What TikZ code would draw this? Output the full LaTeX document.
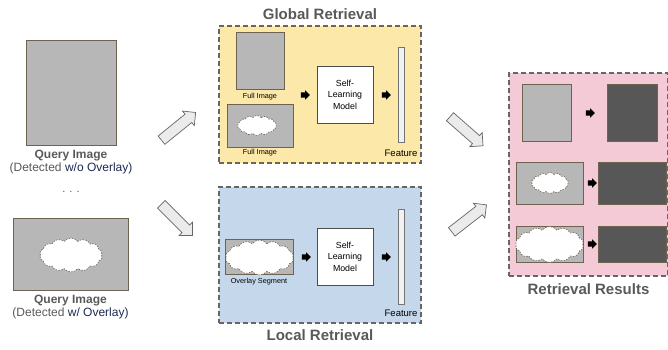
\documentclass[tikz,border=0pt]{standalone}
\usepackage{fontspec}
\setmainfont{Liberation Sans}
\usetikzlibrary{positioning,arrows.meta,shapes.symbols,shapes.arrows}
\definecolor{imggray}{HTML}{B7B7B7}
\definecolor{imgedge}{HTML}{6E6250}
\definecolor{resdark}{HTML}{575757}
\definecolor{globalbg}{HTML}{FCE8A8}
\definecolor{localbg}{HTML}{C5D8EB}
\definecolor{resultbg}{HTML}{F5CAD7}
\definecolor{panelgray}{HTML}{666666}
\definecolor{titlegray}{HTML}{595959}
\definecolor{navyblue}{HTML}{1C2A52}

\begin{document}
\begin{tikzpicture}[
  x=1pt, y=-1pt,
  img/.style={draw=imgedge, fill=imggray, line width=0.7pt, inner sep=0pt},
  res/.style={draw=imgedge, fill=resdark, line width=0.7pt, inner sep=0pt},
  blob/.style={shape=cloud, cloud puffs=14, cloud puff arc=105, cloud ignores aspect,
               draw=imgedge, fill=white, line width=0.6pt, dash pattern=on 1.6pt off 1.2pt, inner sep=0pt},
  panel/.style={draw=panelgray, line width=1.2pt, dash pattern=on 5pt off 3pt, inner sep=0pt},
  model/.style={draw=black!70, fill=white, line width=0.8pt, minimum width=56pt, minimum height=57pt,
                align=center, font=\fontsize{8.8}{11.5}\selectfont},
  feat/.style={draw=black!55, fill=black!5, line width=0.6pt, minimum width=6pt, minimum height=95pt, inner sep=0pt},
  blk/.style={shape=single arrow, fill=black, inner sep=0pt, inner ysep=2.4pt,
              single arrow head extend=2pt, minimum height=9pt},
  hollow/.style={shape=single arrow, draw=black!60, fill=black!8, line width=0.7pt, inner sep=0pt,
                 inner ysep=5pt, single arrow head extend=4pt, minimum height=44pt, sloped},
  ttl/.style={font=\fontsize{15}{18}\selectfont\bfseries, text=titlegray},
  qlab/.style={align=center, text=titlegray, font=\fontsize{12}{13}\selectfont},
  small/.style={font=\fontsize{7.3}{9}\selectfont, inner sep=1pt},
  flab/.style={font=\fontsize{9.5}{11}\selectfont, inner sep=0pt}
]
\useasboundingbox (0,0) rectangle (668,350);

% ===== Query images =====
\node[img, minimum width=90, minimum height=105] (q1) at (71,93) {};
\node[qlab, below=1pt of q1] (q1lab) {\textbf{Query Image}\\(Detected {\color{navyblue}w/o Overlay)}};
\node[text=titlegray, font=\fontsize{11}{11}\selectfont] (qdots) at (71,192) {. . .};
\node[img, minimum width=115, minimum height=72] (q2) at (70.5,254) {};
\node[blob, minimum width=63, minimum height=34] (q2blob) at (71,255) {};
\node[qlab, below=1pt of q2] (q2lab) {\textbf{Query Image}\\(Detected {\color{navyblue}w/ Overlay)}};

% ===== Global retrieval =====
\node[panel, fill=globalbg, minimum width=202, minimum height=137] (gbox) at (320,94.5) {};
\node[ttl, above=2pt of gbox] (gttl) {Global Retrieval};
\node[img, minimum width=48, minimum height=57] (gfull) at (260,60.5) {};
\node[small, below=3pt of gfull] (gfulllab) {Full Image};
\node[img, minimum width=66, minimum height=43] (gover) at (260,125.5) {};
\node[blob, minimum width=39, minimum height=20] (goverblob) at (257,125.5) {};
\node[small, below=1pt of gover] (goverlab) {Full Image};
\node[blk] (garr1) at (304,95) {};
\node[model] (gmodel) at (345,94.5) {Self-\\Learning\\Model};
\node[blk] (garr2) at (385,95) {};
\node[feat] (gfeat) at (401,94.5) {};
\node[flab, above left=7pt and 4pt of gbox.south east] (gfeatlab) {Feature};

% ===== Local retrieval =====
\node[panel, fill=localbg, minimum width=202, minimum height=136] (lbox) at (320,255) {};
\node[ttl, below=2pt of lbox] (lttl) {Local Retrieval};
\node[img, minimum width=68, minimum height=35] (lseg) at (259,256.5) {};
\node[blob, minimum width=68, minimum height=35] (lsegblob) at (259.5,257.5) {};
\node[small, below=3pt of lseg] (lseglab) {Overlay Segment};
\node[blk] (larr1) at (305,257) {};
\node[model] (lmodel) at (345,256.5) {Self-\\Learning\\Model};
\node[blk] (larr2) at (385,257) {};
\node[feat] (lfeat) at (401,256.5) {};
\node[flab, above left=7pt and 4pt of lbox.south east] (lfeatlab) {Feature};

% ===== Retrieval results =====
\node[panel, fill=resultbg, minimum width=159, minimum height=203] (rbox) at (588.5,174.5) {};
\node[ttl, below=3pt of rbox] (rttl) {Retrieval Results};
\node[img, minimum width=49, minimum height=57] (rin1) at (546.5,112.5) {};
\node[blk] (rarr1) at (589,113) {};
\node[res, minimum width=50, minimum height=57] (rout1) at (632,112.5) {};
\node[img, minimum width=67, minimum height=42] (rin2) at (549.5,183) {};
\node[blob, minimum width=37, minimum height=21] (rin2blob) at (550,183) {};
\node[blk] (rarr2) at (591,183) {};
\node[res, minimum width=68, minimum height=42] (rout2) at (632,183) {};
\node[img, minimum width=67, minimum height=36] (rin3) at (549.5,244) {};
\node[blob, minimum width=68, minimum height=36] (rin3blob) at (549.5,244.5) {};
\node[blk] (rarr3) at (591,244) {};
\node[res, minimum width=68, minimum height=36] (rout3) at (632,244) {};

% ===== Hollow arrows between stages =====
\coordinate (h1a) at (158,143); \coordinate (h1b) at (195,113);
\coordinate (h2a) at (160,203); \coordinate (h2b) at (190,233);
\coordinate (h3a) at (448,115); \coordinate (h3b) at (481,144);
\coordinate (h4a) at (449,234); \coordinate (h4b) at (485,206);
\path (h1a) -- (h1b) node[hollow, midway] (h1) {};
\path (h2a) -- (h2b) node[hollow, midway] (h2) {};
\path (h3a) -- (h3b) node[hollow, midway] (h3) {};
\path (h4a) -- (h4b) node[hollow, midway] (h4) {};

\end{tikzpicture}
\end{document}
